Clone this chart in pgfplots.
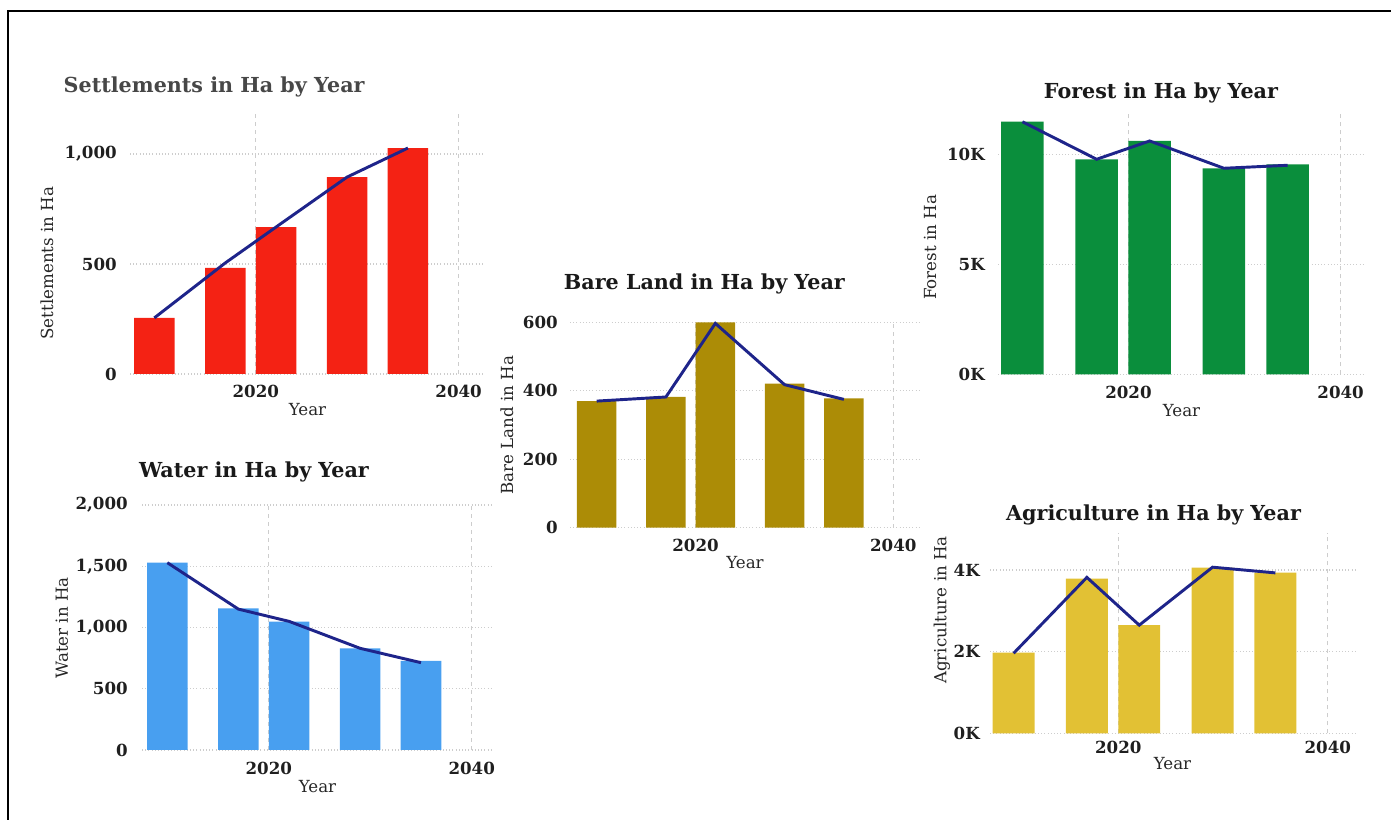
\documentclass[border=0pt]{standalone}
\usepackage{fontspec}
\setmainfont{DejaVu Serif}
\usepackage{pgfplots}
\pgfplotsset{compat=1.18}
\definecolor{setred}{RGB}{244,34,20}
\definecolor{watblue}{RGB}{72,159,240}
\definecolor{bareol}{RGB}{172,140,6}
\definecolor{forgreen}{RGB}{10,142,60}
\definecolor{agyel}{RGB}{226,193,52}
\definecolor{navy}{RGB}{30,36,138}
\definecolor{gridc}{RGB}{205,205,205}
\pgfplotsset{
  landstyle/.style={
    scale only axis,
    axis line style={draw=none},
    major tick length=0pt,
    xmajorgrids, ymajorgrids,
    x grid style={dashed, gridc, line width=0.9pt},
    y grid style={dotted, gridc, line width=0.9pt},
    xtick={2020,2040},
    xticklabels={2020,2040},
    scaled y ticks=false,
    ymin=0,
    enlargelimits=false,
    tick label style={font=\bfseries\fontsize{12.5}{15}\selectfont, text=black!88, inner sep=0pt},
    xlabel={Year},
    every axis y label/.style={rotate=90, anchor=center, font=\fontsize{12.5}{14}\selectfont, text=black!85},
    every axis x label/.style={anchor=center, font=\fontsize{12.5}{14}\selectfont, text=black!85},
    title style={font=\bfseries\fontsize{15.5}{19}\selectfont, anchor=center, yshift=-7.5pt, text=black!90},
    clip=false,
    /pgf/number format/assume math mode=true,
  },
  barplot/.style={ybar, bar width=4, bar shift=0pt, draw=none, fill=#1},
  trend/.style={navy, line width=2.2pt, mark=none, sharp plot},
}
\begin{document}
\begin{tikzpicture}
\useasboundingbox (0pt,0pt) rectangle (1043.25pt,615pt);
\draw[line width=1.5pt] (6pt,0pt) -- (6pt,606.75pt) -- (1043.25pt,606.75pt);

% Settlements
\begin{axis}[landstyle, at={(97.5pt,334.5pt)}, anchor=south west,
  width=266.25pt, height=198pt,
  xmin=2007.6, xmax=2042.6, ymax=1200,
  ytick={0,500,1000}, yticklabels={0,500,{1,000}},
  yticklabel style={anchor=east, xshift=-9.75pt},
  xticklabel style={anchor=center, yshift=-12.75pt},
  ylabel={Settlements in Ha},
  ylabel style={at={(axis description cs:-0.234,0.42)}},
  xlabel style={at={(axis description cs:0.5,-0.133)}},
  title={Settlements in Ha by Year},
  title style={at={(axis description cs:0.237,1.095)}, text=black!72}]
\addplot[barplot=setred] coordinates {(2010,255) (2017,482) (2022,668) (2029,895) (2035,1027)};
\addplot[trend] coordinates {(2010,255) (2017,505) (2022,668) (2029,895) (2035,1027)};
\end{axis}

% Water
\begin{axis}[landstyle, at={(106.5pt,52.5pt)}, anchor=south west,
  width=263.25pt, height=183.75pt,
  xmin=2007.5, xmax=2042.1, ymax=2000,
  ytick={0,500,1000,1500,2000}, yticklabels={0,500,{1,000},{1,500},{2,000}},
  yticklabel style={anchor=east, xshift=-10.5pt},
  xticklabel style={anchor=center, yshift=-13.5pt},
  ylabel={Water in Ha},
  ylabel style={at={(axis description cs:-0.228,0.498)}},
  xlabel style={at={(axis description cs:0.5,-0.151)}},
  title={Water in Ha by Year},
  title style={at={(axis description cs:0.319,1.143)}}]
\addplot[barplot=watblue] coordinates {(2010,1529) (2017,1157) (2022,1048) (2029,830) (2035,727)};
\addplot[trend] coordinates {(2010,1529) (2017,1150) (2022,1050) (2029,830) (2035,713)};
\end{axis}

% Bare land
\begin{axis}[landstyle, at={(427.5pt,219.2pt)}, anchor=south west,
  width=262.5pt, height=155.8pt,
  xmin=2007.3, xmax=2042.7, ymax=607,
  ytick={0,200,400,600}, yticklabels={0,200,400,600},
  yticklabel style={anchor=east, xshift=-9pt},
  xticklabel style={anchor=center, yshift=-13.5pt},
  ylabel={Bare Land in Ha},
  ylabel style={at={(axis description cs:-0.18,0.494)}},
  xlabel style={at={(axis description cs:0.5,-0.169)}},
  title={Bare Land in Ha by Year},
  title style={at={(axis description cs:0.384,1.183)}}]
\addplot[barplot=bareol] coordinates {(2010,370) (2017,382) (2022,600) (2029,421) (2035,378)};
\addplot[trend] coordinates {(2010,370) (2017,382) (2022,597) (2029,418) (2035,375)};
\end{axis}

% Forest
\begin{axis}[landstyle, at={(748.5pt,334.3pt)}, anchor=south west,
  width=275.25pt, height=196pt,
  xmin=2007.7, xmax=2042.3, ymax=11880,
  ytick={0,5000,10000}, yticklabels={0K,5K,10K},
  yticklabel style={anchor=east, xshift=-9.75pt},
  xticklabel style={anchor=center, yshift=-13.5pt},
  ylabel={Forest in Ha},
  ylabel style={at={(axis description cs:-0.185,0.485)}},
  xlabel style={at={(axis description cs:0.5,-0.138)}},
  title={Forest in Ha by Year},
  title style={at={(axis description cs:0.444,1.085)}}]
\addplot[barplot=forgreen] coordinates {(2010,11480) (2017,9773) (2022,10605) (2029,9364) (2035,9545)};
\addplot[trend] coordinates {(2010,11480) (2017,9773) (2022,10605) (2029,9364) (2035,9500)};
\end{axis}

% Agriculture
\begin{axis}[landstyle, at={(742.5pt,65pt)}, anchor=south west,
  width=273.75pt, height=150.2pt,
  xmin=2007.75, xmax=2042.6, ymax=4906,
  ytick={0,2000,4000}, yticklabels={0K,2K,4K},
  yticklabel style={anchor=east, xshift=-7.5pt},
  xticklabel style={anchor=center, yshift=-10.5pt},
  ylabel={Agriculture in Ha},
  ylabel style={at={(axis description cs:-0.132,0.616)}},
  xlabel style={at={(axis description cs:0.5,-0.15)}},
  title={Agriculture in Ha by Year},
  title style={at={(axis description cs:0.448,1.10)}}]
\addplot[barplot=agyel] coordinates {(2010,1975) (2017,3787) (2022,2652) (2029,4057) (2035,3935)};
\addplot[trend] coordinates {(2010,1960) (2017,3820) (2022,2650) (2029,4070) (2035,3930)};
\end{axis}
\end{tikzpicture}
\end{document}
